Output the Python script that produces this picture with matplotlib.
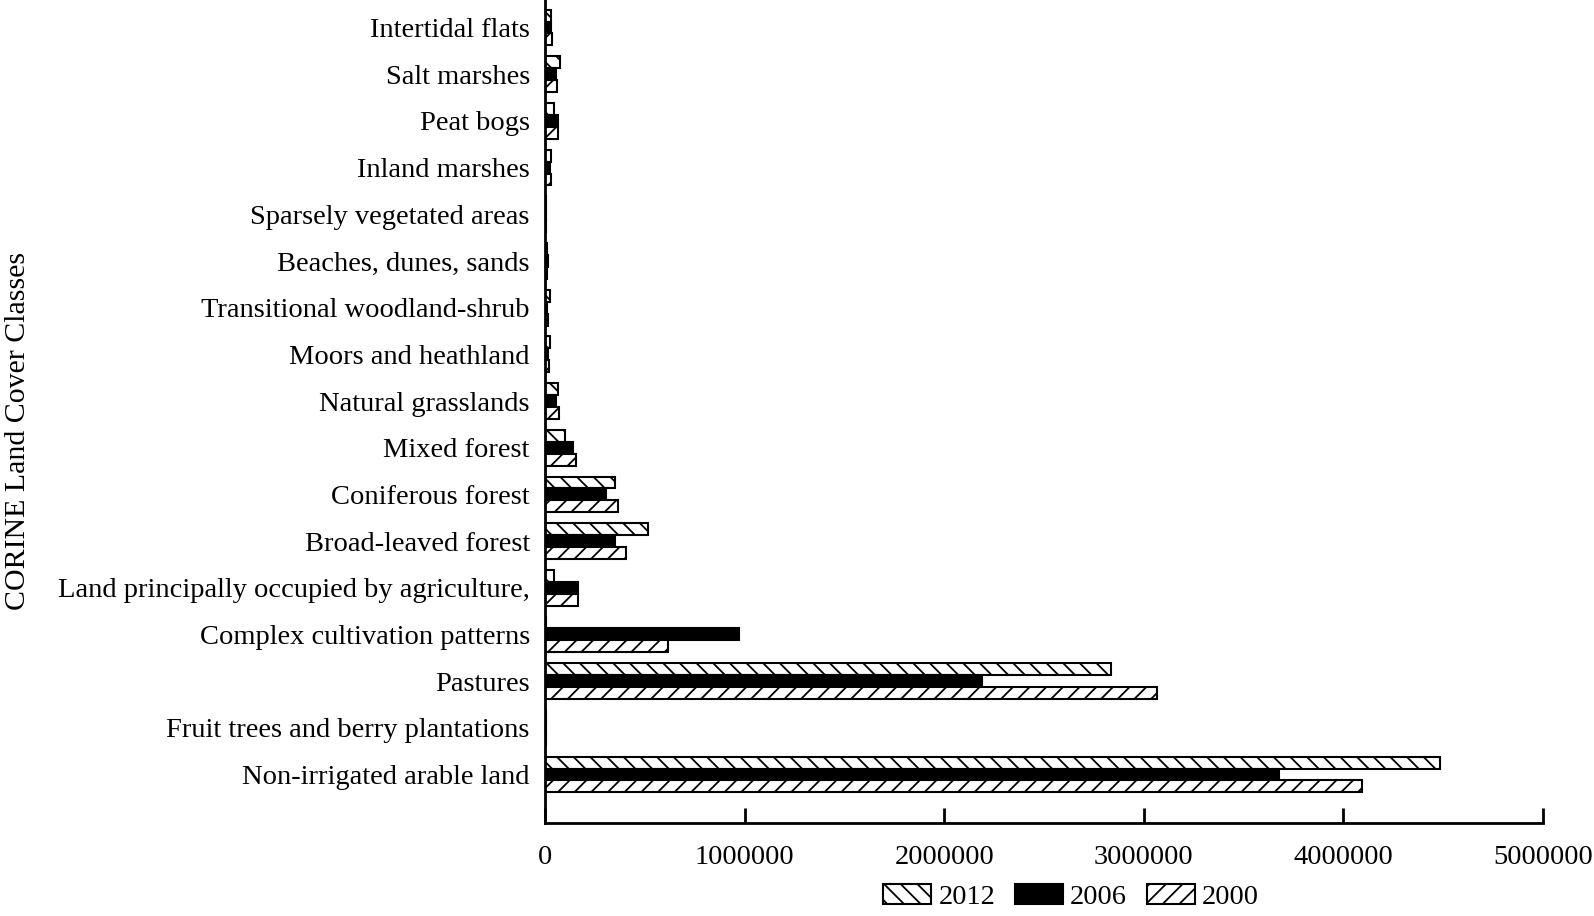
import matplotlib.pyplot as plt
import numpy as np

plt.rcParams['font.family'] = ['Liberation Serif', 'DejaVu Serif']
plt.rcParams['hatch.linewidth'] = 1.3

classes = ['Non-irrigated arable land', 'Fruit trees and berry plantations', 'Pastures',
           'Complex cultivation patterns', 'Land principally occupied by agriculture,',
           'Broad-leaved forest', 'Coniferous forest', 'Mixed forest', 'Natural grasslands',
           'Moors and heathland', 'Transitional woodland-shrub', 'Beaches, dunes, sands',
           'Sparsely vegetated areas', 'Inland marshes', 'Peat bogs', 'Salt marshes',
           'Intertidal flats']

# hectares
y2012 = [4485000, 3000, 2834000, 5000, 45000, 515000, 351000, 97000, 63000,
         22000, 25000, 10000, 5000, 30000, 45000, 75000, 30000]
y2006 = [3675000, 2000, 2187000, 973000, 167000, 351000, 306000, 139000, 55000,
         15000, 10000, 12000, 4000, 25000, 63000, 55000, 28000]
y2000 = [4093000, 4000, 3068000, 617000, 167000, 405000, 364000, 155000, 68000,
         20000, 15000, 10000, 5000, 30000, 66000, 58000, 33000]

fig = plt.figure(figsize=(15.94, 9.16), dpi=100)
ax = fig.add_axes([0.342, 0.102, 0.626, 0.898])

pos = np.arange(len(classes))
h = 0.255
ax.barh(pos + h, y2012, height=h, color='white', edgecolor='black', hatch='\\\\',
        linewidth=1.5, label='2012')
ax.barh(pos, y2006, height=h, color='black', edgecolor='black', linewidth=1.5, label='2006')
ax.barh(pos - h, y2000, height=h, color='white', edgecolor='black', hatch='//',
        linewidth=1.5, label='2000')

ax.set_xlim(0, 5000000)
ax.set_ylim(-1.03, 16.59)
ax.set_xticks(np.arange(0, 5000001, 1000000))
ax.set_xticklabels([str(v) for v in range(0, 5000001, 1000000)])
ax.set_yticks(pos)
ax.set_yticklabels(classes)
ax.tick_params(axis='x', direction='in', length=11, width=2, labelsize=20.5, pad=16)
ax.tick_params(axis='y', length=0, labelsize=20.5, pad=11)
for s in ['top', 'right']:
    ax.spines[s].set_visible(False)
for s in ['left', 'bottom']:
    ax.spines[s].set_linewidth(2)

fig.text(0.011, 0.53, 'CORINE Land Cover Classes', rotation=90, fontsize=21.5,
         va='center', ha='center')

fig.legend(loc='center', bbox_to_anchor=(0.672, 0.021), ncol=3, frameon=False,
           fontsize=20.5, handlelength=1.68, handleheight=0.7, columnspacing=0.7,
           handletextpad=0.25)

fig.savefig('out.png', dpi=100)
